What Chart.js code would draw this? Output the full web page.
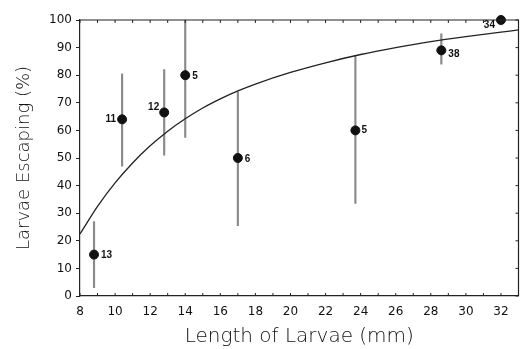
<!DOCTYPE html>
<html>
<head>
<meta charset="utf-8">
<script src="https://cdn.jsdelivr.net/npm/chart.js@4"></script>
<style>
  html, body { margin: 0; padding: 0; background: #fff; }
  #wrap { width: 524px; height: 349px; }
</style>
</head>
<body>
<div id="wrap"><canvas id="larvae"></canvas></div>
<script>
// ----------------------------
// DATA
// ----------------------------
const lengths = [8.8, 10.4, 12.8, 14.0, 17.0, 23.7, 28.6, 32.0];   // mm
const escaping = [15, 64, 66.5, 80, 50, 60, 89, 100];               // %
const errLow  = [3, 47, 51, 57.5, 25.5, 33.5, 84, 100];
const errHigh = [27, 80.5, 82, 100, 74, 87, 95, 100];
const sampleSizes = ["13", "11", "12", "5", "6", "5", "38", "34"];

// fitted curve, read at a few lengths
const curveX = [8, 9, 10, 11, 12, 13, 14, 15, 16, 17, 18, 20, 22, 24, 26, 28, 30, 32, 33];
const curveY = [22.5, 32.5, 41, 48.2, 54.4, 59.7, 64.2, 68.1, 71.4, 74.3, 76.8, 81, 84.5, 87.5, 90, 92.2, 94, 95.6, 96.4];

const xTickValues = [8, 10, 12, 14, 16, 18, 20, 22, 24, 26, 28, 30, 32];
const yTickValues = [0, 10, 20, 30, 40, 50, 60, 70, 80, 90, 100];

// where each n-label sits next to its dot: [dx, dy, align]
const labelPlace = [[7, 1, "left"], [-6, 0, "right"], [-5, -5, "right"], [7, 1, "left"],
                    [7, 1, "left"], [6, 0, "left"], [7, 4, "left"], [-6, 5, "right"]];

Chart.defaults.font.family = "'DejaVu Sans', sans-serif";
Chart.defaults.color = "#111";

// ----------------------------
// PLUGIN: frame, inner ticks, n labels
// ----------------------------
const decorations = {
  id: "decorations",
  afterDatasetsDraw(chart) {
    const { ctx, chartArea: a, scales } = chart;
    const xs = scales.x, ys = scales.y;
    ctx.save();
    ctx.strokeStyle = "#222";
    ctx.lineWidth = 1.2;
    // top and right frame
    ctx.beginPath();
    ctx.moveTo(a.left, a.top); ctx.lineTo(a.right, a.top); ctx.lineTo(a.right, a.bottom);
    ctx.stroke();
    // mm ticks on bottom and top, pointing in
    ctx.lineWidth = 1;
    for (let v = 8; v <= 33; v++) {
      const px = xs.getPixelForValue(v);
      if (px > a.right) break;
      ctx.beginPath();
      ctx.moveTo(px, a.bottom); ctx.lineTo(px, a.bottom - 3);
      ctx.moveTo(px, a.top); ctx.lineTo(px, a.top + 3);
      ctx.stroke();
    }
    // right side ticks
    yTickValues.forEach(v => {
      const py = ys.getPixelForValue(v);
      ctx.beginPath();
      ctx.moveTo(a.right, py); ctx.lineTo(a.right - 3, py);
      ctx.stroke();
    });
    // sample size labels
    const pts = chart.getDatasetMeta(2).data;
    ctx.fillStyle = "#111";
    ctx.font = "bold 10px 'Liberation Sans', sans-serif";
    ctx.textBaseline = "middle";
    pts.forEach((p, i) => {
      const [dx, dy, al] = labelPlace[i];
      ctx.textAlign = al;
      ctx.fillText(sampleSizes[i], p.x + dx, p.y + dy);
    });
    ctx.restore();
  }
};

// ----------------------------
// CHART
// ----------------------------
const ctx = document.getElementById("larvae").getContext("2d");
new Chart(ctx, {
  type: "scatter",
  data: {
    datasets: [
      {
        type: "bar",
        label: "range",
        data: lengths.map((x, i) => ({ x: x, y: [errLow[i], errHigh[i]] })),
        backgroundColor: "#8a8a8a",
        borderWidth: 0,
        barThickness: 1.5,
        order: 3
      },
      {
        type: "line",
        label: "fit",
        data: curveX.map((x, i) => ({ x: x, y: curveY[i] })),
        borderColor: "#222",
        borderWidth: 1.3,
        pointRadius: 0,
        cubicInterpolationMode: "monotone",
        fill: false,
        order: 2
      },
      {
        type: "scatter",
        label: "escaping",
        data: lengths.map((x, i) => ({ x: x, y: escaping[i] })),
        backgroundColor: "#111",
        borderColor: "#111",
        pointRadius: 4.5,
        clip: false,
        order: 1
      }
    ]
  },
  options: {
    responsive: true,
    maintainAspectRatio: false,
    animation: false,
    layout: { padding: { top: 20, right: 1, left: 0, bottom: 0 } },
    plugins: { legend: { display: false }, tooltip: { enabled: false } },
    scales: {
      x: {
        type: "linear",
        min: 8,
        max: 33,
        offset: false,
        afterFit(s) { s.height = 53; },
        afterBuildTicks(s) { s.ticks = xTickValues.map(v => ({ value: v })); },
        grid: { display: true, drawOnChartArea: false, drawTicks: false },
        border: { display: true, color: "#222", width: 1.2 },
        ticks: { padding: 9, font: { size: 12 }, color: "#111", maxRotation: 0 },
        title: {
          display: true,
          text: "Length of Larvae (mm)",
          font: { size: 20, weight: 300 },
          color: "#111",
          padding: { top: 0, bottom: 0 }
        }
      },
      y: {
        min: 0,
        max: 100,
        afterFit(s) { s.width = 80; },
        afterBuildTicks(s) { s.ticks = yTickValues.map(v => ({ value: v })); },
        grid: { display: true, drawOnChartArea: false, drawTicks: true, tickLength: 4, color: "#222" },
        border: { display: true, color: "#222", width: 1.2 },
        ticks: { padding: 4, font: { size: 12 }, color: "#111" },
        title: {
          display: true,
          text: "Larvae Escaping (%)",
          font: { size: 18, weight: 300 },
          color: "#111",
          padding: { top: 14, bottom: 4 }
        }
      }
    }
  },
  plugins: [decorations]
});
</script>
</body>
</html>
